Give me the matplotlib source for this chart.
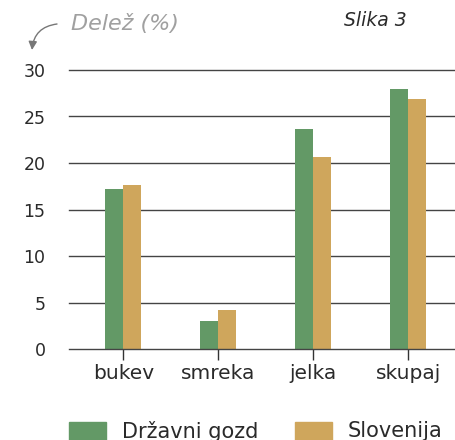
import matplotlib
matplotlib.use("Agg")
import matplotlib.pyplot as plt
import numpy as np
from matplotlib.patches import FancyArrowPatch, Rectangle

categories = ["bukev", "smreka", "jelka", "skupaj"]
drzavni = [17.2, 3.0, 23.65, 27.95]
slovenija = [17.6, 4.2, 20.6, 26.9]
yticks = [0, 5, 10, 15, 20, 25, 30]
series_names = ["Državni gozd", "Slovenija"]

green = "#639966"
gold = "#cfa65c"
font = "DejaVu Sans"
txt = "#2a2a2a"

fig = plt.figure(figsize=(4.55, 4.4), dpi=100)
ax = fig.add_axes([69/455, 1 - 349/440, (455-69)/455, (349-70)/440])

x = np.arange(len(categories))
w = 0.19
ax.bar(x - w/2, drzavni, w, color=green, zorder=3)
ax.bar(x + w/2, slovenija, w, color=gold, zorder=3)

ax.set_ylim(0, 30)
ax.set_xlim(-0.57, 3.49)
ax.set_yticks(yticks)
ax.set_yticklabels([str(v) for v in yticks], fontsize=12.5, family=font, color=txt)
ax.set_xticks(x)
ax.set_xticklabels(categories, fontsize=14.5, family=font, color=txt)
ax.tick_params(axis="y", length=0, pad=17)
ax.tick_params(axis="x", length=8, width=1, color="#333333", pad=3)
for v in yticks:
    ax.axhline(v, color="#444444", lw=1, zorder=1 if v else 4, clip_on=False)
for s in ax.spines.values():
    s.set_visible(False)

fig.text(71/455, 1 - 24/440, "Delež (%)", fontsize=16, style="italic", color="#a0a0a0",
         family=font, va="center", ha="left")
fig.text(407/455, 1 - 21/440, "Slika 3", fontsize=13.5, style="italic", color=txt,
         family=font, va="center", ha="right")
arr = FancyArrowPatch((57/455, 1 - 24/440), (32/455, 1 - 50/440), transform=fig.transFigure,
                      connectionstyle="arc3,rad=0.4", arrowstyle="-|>,head_length=5,head_width=2.5",
                      color="#777777", lw=1, shrinkA=0, shrinkB=0)
fig.patches.append(arr)

# legend
fig.patches.append(Rectangle((69/455, 0), 37/455, 18/440, transform=fig.transFigure,
                             color=green))
fig.text(122/455, 1 - 431/440, series_names[0], fontsize=15, family=font, color=txt,
         va="center", ha="left")
fig.patches.append(Rectangle((295/455, 0), 37/455, 18/440, transform=fig.transFigure,
                             color=gold))
fig.text(348/455, 1 - 431/440, series_names[1], fontsize=15, family=font, color=txt,
         va="center", ha="left")

fig.savefig("out.png", dpi=100)
